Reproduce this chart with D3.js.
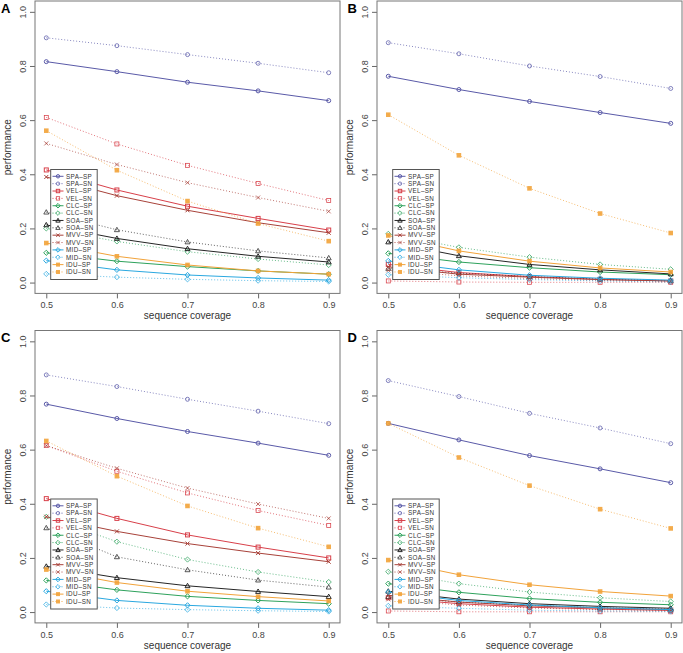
<!DOCTYPE html>
<html>
<head>
<meta charset="utf-8">
<script src="https://cdn.jsdelivr.net/npm/d3@7"></script>
<style>
html,body{margin:0;padding:0;background:#fff;}
svg{display:block;font-family:"Liberation Sans",Arial,Helvetica,sans-serif;}
</style>
</head>
<body>
<svg id="chart" width="683" height="653"></svg>
<script>
const coverage = [0.5, 0.6, 0.7, 0.8, 0.9];
const panelLabels = ["A", "B", "C", "D"];
const methods = ["SPA", "VEL", "CLC", "SOA", "MVV", "MID", "IDU"];
const metrics = ["SP", "SN"];
const yTicks = [0, 0.2, 0.4, 0.6, 0.8, 1.0];
const xTitle = "sequence coverage";
const yTitle = "performance";

// rows: panels A, B, C, D ; columns: coverage 0.5..0.9
const SPA_SP = [[0.816,0.779,0.740,0.708,0.672],[0.762,0.713,0.669,0.628,0.588],[0.768,0.715,0.667,0.624,0.579],[0.697,0.636,0.578,0.529,0.478]];
const SPA_SN = [[0.904,0.875,0.842,0.810,0.775],[0.886,0.845,0.800,0.761,0.717],[0.876,0.833,0.786,0.742,0.696],[0.855,0.796,0.734,0.680,0.622]];
const VEL_SP = [[0.416,0.342,0.282,0.237,0.194],[0.067,0.037,0.022,0.012,0.006],[0.419,0.346,0.285,0.240,0.200],[0.053,0.031,0.018,0.011,0.006]];
const VEL_SN = [[0.610,0.512,0.433,0.366,0.303],[0.006,0.002,0.001,0.001,0.001],[0.615,0.520,0.440,0.375,0.320],[0.004,0.001,0.001,0.001,0.001]];
const CLC_SP = [[0.110,0.079,0.059,0.043,0.031],[0.108,0.076,0.055,0.039,0.029],[0.117,0.082,0.058,0.043,0.031],[0.105,0.073,0.050,0.036,0.027]];
const CLC_SN = [[0.200,0.152,0.114,0.087,0.065],[0.180,0.130,0.094,0.067,0.049],[0.352,0.260,0.194,0.148,0.111],[0.149,0.105,0.074,0.053,0.039]];
const SOA_SP = [[0.213,0.163,0.125,0.097,0.076],[0.150,0.099,0.067,0.047,0.032],[0.169,0.127,0.097,0.076,0.057],[0.077,0.048,0.031,0.021,0.014]];
const SOA_SN = [[0.260,0.195,0.150,0.117,0.091],[0.052,0.035,0.022,0.013,0.007],[0.311,0.204,0.156,0.118,0.092],[0.057,0.037,0.025,0.016,0.011]];
const MVV_SP = [[0.390,0.321,0.267,0.221,0.184],[0.058,0.031,0.020,0.011,0.006],[0.352,0.298,0.253,0.218,0.186],[0.062,0.037,0.023,0.015,0.009]];
const MVV_SN = [[0.514,0.436,0.369,0.314,0.263],[0.045,0.025,0.015,0.008,0.004],[0.615,0.531,0.458,0.399,0.346],[0.047,0.026,0.015,0.009,0.005]];
const MID_SP = [[0.081,0.047,0.028,0.017,0.009],[0.080,0.047,0.027,0.016,0.009],[0.077,0.043,0.025,0.014,0.007],[0.074,0.043,0.026,0.016,0.009]];
const MID_SN = [[0.032,0.020,0.012,0.007,0.004],[0.029,0.018,0.011,0.006,0.002],[0.028,0.015,0.009,0.005,0.002],[0.023,0.014,0.007,0.004,0.002]];
const IDU_SP = [[0.146,0.097,0.065,0.043,0.031],[0.174,0.117,0.079,0.054,0.039],[0.157,0.109,0.077,0.057,0.041],[0.192,0.138,0.101,0.076,0.059]];
const IDU_SN = [[0.561,0.415,0.301,0.218,0.153],[0.620,0.470,0.348,0.255,0.183],[0.632,0.502,0.392,0.310,0.241],[0.697,0.571,0.467,0.380,0.309]];

const seriesValues = {SPA_SP, SPA_SN, VEL_SP, VEL_SN, CLC_SP, CLC_SN, SOA_SP, SOA_SN,
                      MVV_SP, MVV_SN, MID_SP, MID_SN, IDU_SP, IDU_SN};

const methodColor = {SPA:"#5a5aa8", VEL:"#d8404a", CLC:"#2ea25c", SOA:"#262626",
                     MVV:"#a8423a", MID:"#2aa8e0", IDU:"#f2a33a"};
const methodShape = {SPA:"circle", VEL:"square", CLC:"diamond", SOA:"triangle",
                     MVV:"cross", MID:"diamond", IDU:"fsquare"};

const svg = d3.select("#chart");
const W = 305, H = 292.4;
const offsets = [[0,0],[342,0],[0,329.5],[342,329.5]];
const boxLeft = 35, boxTop = 1;

function drawMarker(g, shape, cx, cy, color, sw, s) {
  if (shape === "circle") {
    g.append("circle").attr("cx",cx).attr("cy",cy).attr("r",s)
      .attr("fill","none").attr("stroke",color).attr("stroke-width",sw);
  } else if (shape === "square") {
    g.append("rect").attr("x",cx-s).attr("y",cy-s).attr("width",2*s).attr("height",2*s)
      .attr("fill","none").attr("stroke",color).attr("stroke-width",sw);
  } else if (shape === "fsquare") {
    g.append("rect").attr("x",cx-s-0.3).attr("y",cy-s-0.3).attr("width",2*s+0.6).attr("height",2*s+0.6)
      .attr("fill",color).attr("stroke","none").attr("opacity",0.9);
  } else if (shape === "diamond") {
    const d = s + 0.6;
    g.append("path").attr("d",`M${cx},${cy-d}L${cx+d},${cy}L${cx},${cy+d}L${cx-d},${cy}Z`)
      .attr("fill","none").attr("stroke",color).attr("stroke-width",sw);
  } else if (shape === "triangle") {
    const d = s + 0.5;
    g.append("path").attr("d",`M${cx},${cy-d}L${cx+d},${cy+d*0.75}L${cx-d},${cy+d*0.75}Z`)
      .attr("fill","none").attr("stroke",color).attr("stroke-width",sw);
  } else if (shape === "cross") {
    g.append("path").attr("d",`M${cx-s},${cy-s}L${cx+s},${cy+s}M${cx-s},${cy+s}L${cx+s},${cy-s}`)
      .attr("fill","none").attr("stroke",color).attr("stroke-width",sw);
  }
}

panelLabels.forEach((lab, pi) => {
  const [ox, oy] = offsets[pi];
  const L = ox + boxLeft, T = oy + boxTop;
  const x = d3.scaleLinear().domain([0.484, 0.916]).range([L, L + W]);
  const y = d3.scaleLinear().domain([-0.04, 1.04]).range([T + H, T]);
  const g = svg.append("g");

  // series
  const line = d3.line().x((d,i) => x(coverage[i])).y(d => y(d));
  methods.forEach(m => {
    metrics.forEach(mt => {
      const vals = seriesValues[`${m}_${mt}`][pi];
      const col = methodColor[m];
      g.append("path").datum(vals).attr("d", line)
        .attr("fill","none").attr("stroke",col)
        .attr("stroke-width", mt === "SP" ? 1.0 : 0.9)
        .attr("stroke-dasharray", mt === "SP" ? null : "1,2")
        .attr("opacity", mt === "SP" ? 1 : 0.8);
      vals.forEach((v,i) => drawMarker(g, methodShape[m], x(coverage[i]), y(v), col, mt === "SP" ? 1.0 : 0.75, 2.0));
    });
  });

  // axes
  const ax = g.append("g").attr("transform",`translate(${L},0)`)
    .call(d3.axisLeft(y).tickValues(yTicks).tickFormat(d3.format(".1f")).tickSize(5));
  ax.select(".domain").remove();
  ax.selectAll("line").attr("stroke","#666");
  ax.selectAll("text").attr("transform","rotate(-90)").attr("x",0).attr("y",-9).attr("dy",null)
    .attr("text-anchor","middle").attr("fill","#444").style("font-size","9px")
    .style("font-family","'Liberation Sans',Arial,sans-serif");

  const bx = g.append("g").attr("transform",`translate(0,${T+H})`)
    .call(d3.axisBottom(x).tickValues(coverage).tickFormat(d3.format(".1f")).tickSize(5));
  bx.select(".domain").remove();
  bx.selectAll("line").attr("stroke","#666");
  bx.selectAll("text").attr("y",15).attr("dy",null).attr("fill","#444").style("font-size","9px")
    .style("font-family","'Liberation Sans',Arial,sans-serif");

  // box
  g.append("rect").attr("x",L).attr("y",T).attr("width",W).attr("height",H)
    .attr("fill","none").attr("stroke","#777").attr("stroke-width",1);

  // titles
  g.append("text").attr("x", L + W/2).attr("y", T + H + 26).attr("text-anchor","middle")
    .attr("fill","#333").style("font-size","10px").text(xTitle);
  g.append("text").attr("transform",`translate(${ox+11},${T+H/2}) rotate(-90)`).attr("text-anchor","middle")
    .attr("fill","#333").style("font-size","10px").text(yTitle);
  g.append("text").attr("x", ox + (pi % 2 === 0 ? 1 : 5.5)).attr("y", oy + 12.5)
    .attr("fill","#000").style("font-size","13px").style("font-weight","bold").text(lab);

  // legend
  const lg = g.append("g");
  const lx = ox + 50.7, ly = oy + 169.5;
  lg.append("rect").attr("x",lx).attr("y",ly).attr("width",46.5).attr("height",110)
    .attr("fill","#fff").attr("stroke","#555").attr("stroke-width",1);
  let r = 0;
  methods.forEach(m => {
    metrics.forEach(mt => {
      const cy = ly + 6.8 + r * 7.36;
      const col = methodColor[m];
      lg.append("line").attr("x1",lx+1.8).attr("x2",lx+12.8).attr("y1",cy).attr("y2",cy)
        .attr("stroke",col).attr("stroke-width", mt === "SP" ? 1.0 : 0.9)
        .attr("stroke-dasharray", mt === "SP" ? null : "1,2");
      drawMarker(lg, methodShape[m], lx + 7.3, cy, col, mt === "SP" ? 1.0 : 0.75, 1.7);
      lg.append("text").attr("x", lx + 15.3).attr("y", cy + 2.3)
        .attr("fill","#333").style("font-size","6.3px").style("letter-spacing","0.35px")
        .text(`${m}\u2013${mt}`);
      r++;
    });
  });
});
</script>
</body>
</html>
